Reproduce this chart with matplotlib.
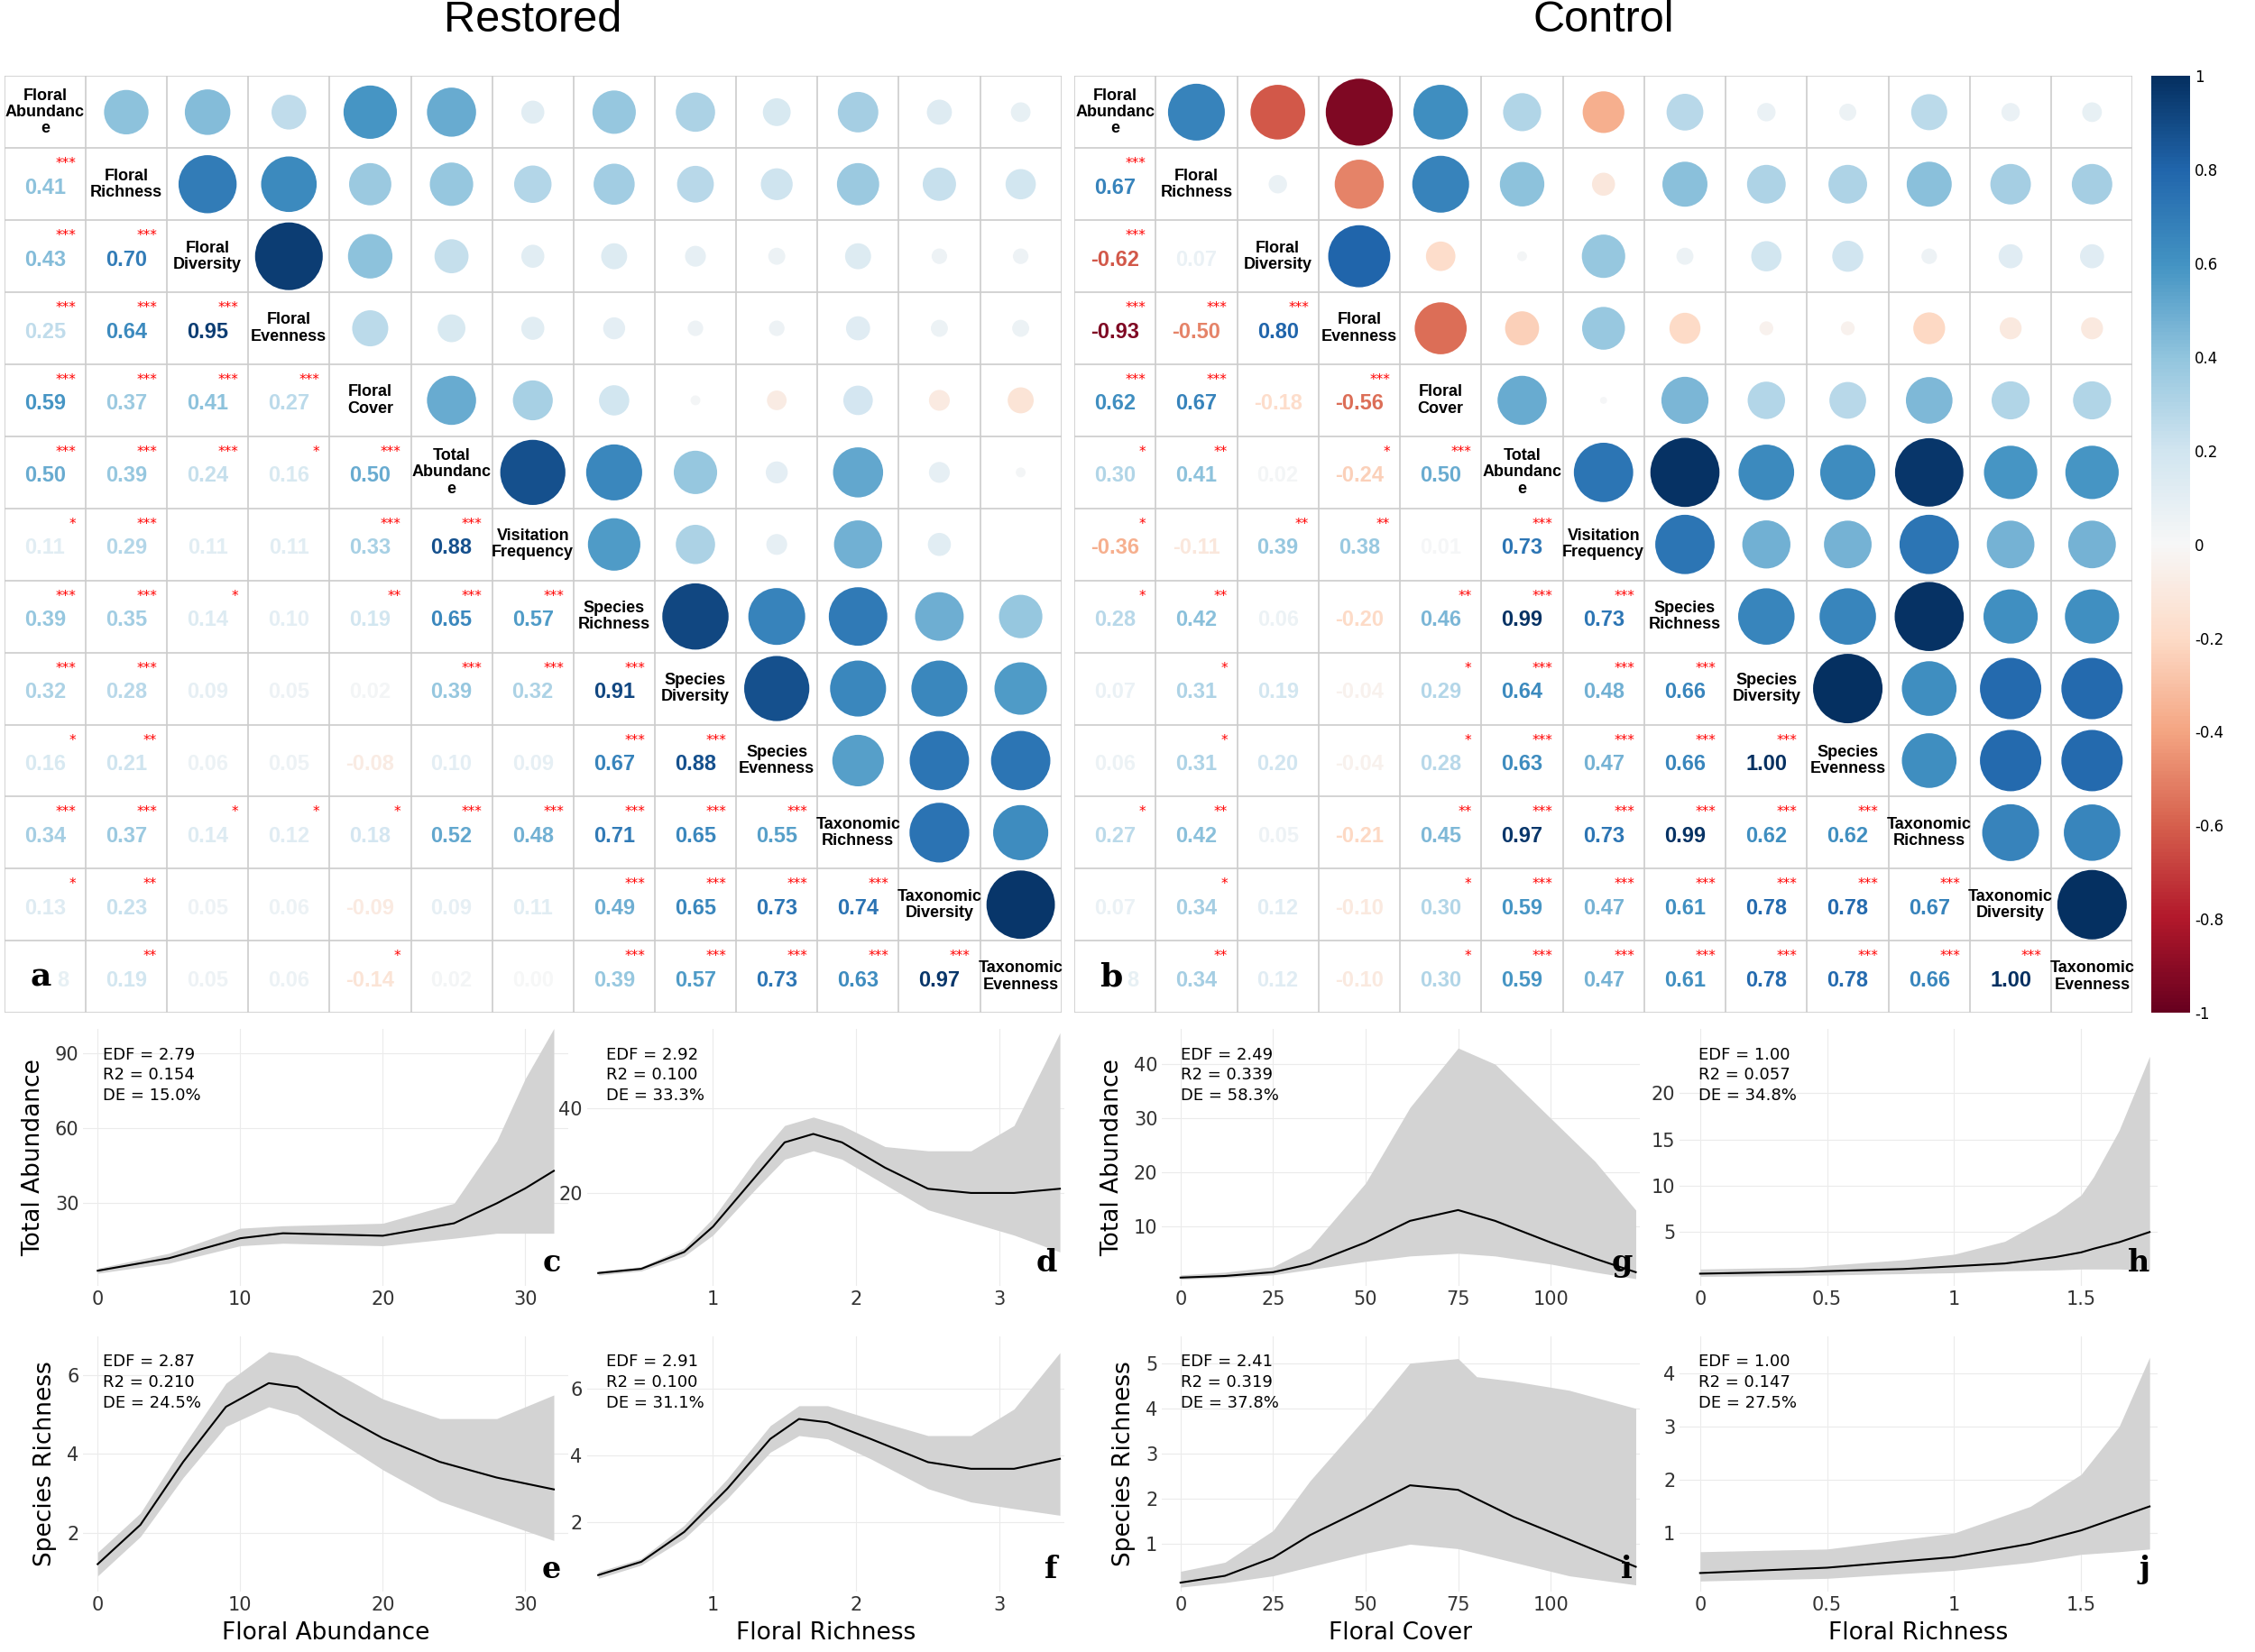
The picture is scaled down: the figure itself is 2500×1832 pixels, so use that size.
import numpy as np
import matplotlib.pyplot as plt
from matplotlib.patches import Ellipse
from matplotlib.colors import Normalize
import matplotlib as mpl

names = ["Floral\nAbundanc\ne", "Floral\nRichness", "Floral\nDiversity", "Floral\nEvenness",
         "Floral\nCover", "Total\nAbundanc\ne", "Visitation\nFrequency", "Species\nRichness",
         "Species\nDiversity", "Species\nEvenness", "Taxonomic\nRichness", "Taxonomic\nDiversity",
         "Taxonomic\nEvenness"]

# lower triangles, row i holds correlations with columns 0..i-1
rest_r = [[0.41],
          [0.43, 0.70],
          [0.25, 0.64, 0.95],
          [0.59, 0.37, 0.41, 0.27],
          [0.50, 0.39, 0.24, 0.16, 0.50],
          [0.11, 0.29, 0.11, 0.11, 0.33, 0.88],
          [0.39, 0.35, 0.14, 0.10, 0.19, 0.65, 0.57],
          [0.32, 0.28, 0.09, 0.05, 0.02, 0.39, 0.32, 0.91],
          [0.16, 0.21, 0.06, 0.05, -0.08, 0.10, 0.09, 0.67, 0.88],
          [0.34, 0.37, 0.14, 0.12, 0.18, 0.52, 0.48, 0.71, 0.65, 0.55],
          [0.13, 0.23, 0.05, 0.06, -0.09, 0.09, 0.11, 0.49, 0.65, 0.73, 0.74],
          [0.08, 0.19, 0.05, 0.06, -0.14, 0.02, 0.00, 0.39, 0.57, 0.73, 0.63, 0.97]]
rest_s = [["***"],
          ["***", "***"],
          ["***", "***", "***"],
          ["***", "***", "***", "***"],
          ["***", "***", "***", "*", "***"],
          ["*", "***", "", "", "***", "***"],
          ["***", "***", "*", "", "**", "***", "***"],
          ["***", "***", "", "", "", "***", "***", "***"],
          ["*", "**", "", "", "", "", "", "***", "***"],
          ["***", "***", "*", "*", "*", "***", "***", "***", "***", "***"],
          ["*", "**", "", "", "", "", "", "***", "***", "***", "***"],
          ["", "**", "", "", "*", "", "", "***", "***", "***", "***", "***"]]
ctrl_r = [[0.67],
          [-0.62, 0.07],
          [-0.93, -0.50, 0.80],
          [0.62, 0.67, -0.18, -0.56],
          [0.30, 0.41, 0.02, -0.24, 0.50],
          [-0.36, -0.11, 0.39, 0.38, 0.01, 0.73],
          [0.28, 0.42, 0.06, -0.20, 0.46, 0.99, 0.73],
          [0.07, 0.31, 0.19, -0.04, 0.29, 0.64, 0.48, 0.66],
          [0.06, 0.31, 0.20, -0.04, 0.28, 0.63, 0.47, 0.66, 1.00],
          [0.27, 0.42, 0.05, -0.21, 0.45, 0.97, 0.73, 0.99, 0.62, 0.62],
          [0.07, 0.34, 0.12, -0.10, 0.30, 0.59, 0.47, 0.61, 0.78, 0.78, 0.67],
          [0.08, 0.34, 0.12, -0.10, 0.30, 0.59, 0.47, 0.61, 0.78, 0.78, 0.66, 1.00]]
ctrl_s = [["***"],
          ["***", ""],
          ["***", "***", "***"],
          ["***", "***", "", "***"],
          ["*", "**", "", "*", "***"],
          ["*", "", "**", "**", "", "***"],
          ["*", "**", "", "", "**", "***", "***"],
          ["", "*", "", "", "*", "***", "***", "***"],
          ["", "*", "", "", "*", "***", "***", "***", "***"],
          ["*", "**", "", "", "**", "***", "***", "***", "***", "***"],
          ["", "*", "", "", "*", "***", "***", "***", "***", "***", "***"],
          ["", "**", "", "", "*", "***", "***", "***", "***", "***", "***", "***"]]

W, H = 25, 18.32
fig = plt.figure(figsize=(W, H), dpi=100)
cmap = plt.get_cmap("RdBu")
norm = Normalize(-1, 1)
n = 13
SANS = "Liberation Sans"


def fx(px):  # reference display px -> figure fraction
    return px / 1568


def fy(py):
    return 1 - py / 1150


def corr_panel(left, right, rows, stars, letter, title):
    ax = fig.add_axes([fx(left), fy(705), fx(right - left), fy(53) - fy(705)])
    ax.set_xlim(0, n)
    ax.set_ylim(n, 0)
    ax.axis("off")
    for k in range(n + 1):
        ax.plot([k, k], [0, n], color="#cccccc", lw=1.2)
        ax.plot([0, n], [k, k], color="#cccccc", lw=1.2)
    cw = (right - left) * 2500 / 1568 / n
    ch = 652 * 1832 / 1150 / n
    for i in range(n):
        ax.text(i + 0.5, i + 0.5, names[i], ha="center", va="center", family=SANS,
                fontsize=13, fontweight="bold", linespacing=1.1)
        for j in range(i):
            r = rows[i - 1][j]
            c = cmap(norm(r))
            if not (i == n - 1 and j == 0):
                ax.text(j + 0.5, i + 0.55, f"{r:.2f}", ha="center", va="center",
                        fontsize=17, fontweight="bold", color=c, family=SANS)
            ax.text(j + 0.88, i + 0.22, stars[i - 1][j], ha="right", va="center",
                    fontsize=11, color="red")
            d = 77 * np.sqrt(abs(r))
            ax.add_patch(Ellipse((i + 0.5, j + 0.5), d / cw, d / ch, color=c, lw=0))
    # value under the panel letter, drawn faintly beside it
    r0 = rows[n - 2][0]
    ax.text(0.72, n - 0.45, f"{r0:.2f}"[-1], ha="center", va="center",
            fontsize=17, fontweight="bold", color=cmap(norm(r0)), family=SANS)
    ax.text(0.45, n - 0.5, letter, ha="center", va="center", fontsize=26,
            fontweight="bold", family="DejaVu Serif")
    fig.text(fx((left + right) / 2), fy(14), title, ha="center", va="center",
             fontsize=35, family=SANS)


corr_panel(3, 738, rest_r, rest_s, "a", "Restored")
corr_panel(747, 1483, ctrl_r, ctrl_s, "b", "Control")

cax = fig.add_axes([fx(1496), fy(705), fx(27), fy(53) - fy(705)])
cb = fig.colorbar(mpl.cm.ScalarMappable(norm=norm, cmap=cmap), cax=cax,
                  ticks=np.round(np.arange(-1, 1.01, 0.2), 1))
cb.ax.set_yticklabels(["-1", "-0.8", "-0.6", "-0.4", "-0.2", "0", "0.2", "0.4", "0.6", "0.8", "1"])
cb.ax.tick_params(labelsize=12, length=0)
cb.outline.set_visible(False)

# GAM fits: x, fit, lower, upper
gam = {
    "c": dict(x=[0, 5, 10, 13, 20, 25, 28, 30, 32],
              y=[3, 8, 16, 18, 17, 22, 30, 36, 43],
              lo=[2, 6, 13, 14, 13, 16, 18, 18, 18],
              hi=[4, 10, 20, 21, 22, 30, 55, 80, 100],
              stats="EDF = 2.79\nR2 = 0.154\nDE = 15.0%"),
    "d": dict(x=[0.2, 0.5, 0.8, 1.0, 1.3, 1.5, 1.7, 1.9, 2.2, 2.5, 2.8, 3.1, 3.42],
              y=[1, 2, 6, 12, 24, 32, 34, 32, 26, 21, 20, 20, 21],
              lo=[0.5, 1.5, 5, 10, 21, 28, 30, 28, 22, 16, 13, 10, 6],
              hi=[1.5, 2.5, 7, 14, 28, 36, 38, 36, 31, 30, 30, 36, 58],
              stats="EDF = 2.92\nR2 = 0.100\nDE = 33.3%"),
    "e": dict(x=[0, 3, 6, 9, 12, 14, 17, 20, 24, 28, 32],
              y=[1.2, 2.2, 3.8, 5.2, 5.8, 5.7, 5.0, 4.4, 3.8, 3.4, 3.1],
              lo=[0.9, 1.9, 3.4, 4.7, 5.2, 5.0, 4.3, 3.6, 2.8, 2.3, 1.8],
              hi=[1.5, 2.5, 4.2, 5.8, 6.6, 6.5, 6.0, 5.4, 4.9, 4.9, 5.5],
              stats="EDF = 2.87\nR2 = 0.210\nDE = 24.5%"),
    "f": dict(x=[0.2, 0.5, 0.8, 1.1, 1.4, 1.6, 1.8, 2.1, 2.5, 2.8, 3.1, 3.42],
              y=[0.4, 0.8, 1.7, 3.0, 4.5, 5.1, 5.0, 4.5, 3.8, 3.6, 3.6, 3.9],
              lo=[0.3, 0.7, 1.5, 2.7, 4.1, 4.6, 4.5, 3.9, 3.0, 2.6, 2.4, 2.2],
              hi=[0.5, 0.9, 1.9, 3.3, 4.9, 5.5, 5.5, 5.1, 4.6, 4.6, 5.4, 7.1],
              stats="EDF = 2.91\nR2 = 0.100\nDE = 31.1%"),
    "g": dict(x=[0, 12, 25, 35, 50, 62, 75, 85, 100, 112, 123],
              y=[0.5, 0.8, 1.5, 3, 7, 11, 13, 11, 7, 4, 1.5],
              lo=[0.2, 0.5, 1, 2, 3.5, 4.5, 5, 4.5, 3, 1.5, 0.3],
              hi=[1, 1.5, 2.5, 6, 18, 32, 43, 40, 30, 22, 13],
              stats="EDF = 2.49\nR2 = 0.339\nDE = 58.3%"),
    "h": dict(x=[0, 0.4, 0.8, 1.0, 1.2, 1.4, 1.5, 1.55, 1.65, 1.77],
              y=[0.5, 0.7, 1.0, 1.3, 1.6, 2.3, 2.8, 3.2, 3.9, 5.0],
              lo=[0.2, 0.3, 0.5, 0.6, 0.8, 0.9, 1.0, 1.0, 1.0, 0.9],
              hi=[1, 1.2, 2.0, 2.6, 4, 7, 9, 11, 16, 24],
              stats="EDF = 1.00\nR2 = 0.057\nDE = 34.8%"),
    "i": dict(x=[0, 12, 25, 35, 50, 62, 75, 80, 90, 105, 123],
              y=[0.15, 0.3, 0.7, 1.2, 1.8, 2.3, 2.2, 2.0, 1.6, 1.1, 0.5],
              lo=[0.05, 0.15, 0.3, 0.5, 0.8, 1.0, 0.9, 0.8, 0.6, 0.3, 0.1],
              hi=[0.4, 0.6, 1.3, 2.4, 3.8, 5.0, 5.1, 4.7, 4.6, 4.4, 4.0],
              stats="EDF = 2.41\nR2 = 0.319\nDE = 37.8%"),
    "j": dict(x=[0, 0.5, 1.0, 1.3, 1.5, 1.65, 1.77],
              y=[0.25, 0.35, 0.55, 0.8, 1.05, 1.3, 1.5],
              lo=[0.1, 0.15, 0.3, 0.45, 0.6, 0.65, 0.7],
              hi=[0.65, 0.7, 1.0, 1.5, 2.1, 3.0, 4.3],
              stats="EDF = 1.00\nR2 = 0.147\nDE = 27.5%"),
}

# panel key, left, right, top, bottom (reference px), xlim, ylim, xticks, yticks, ylabel, xlabel
panels = [
    ("c", 58, 395, 716, 895, (-1, 33), (-3, 100), [0, 10, 20, 30], [30, 60, 90], "Total Abundance", None),
    ("d", 408, 740, 716, 895, (0.12, 3.45), (-2, 59), [1, 2, 3], [20, 40], None, None),
    ("g", 808, 1140, 716, 895, (-5, 124), (-1, 46.6), [0, 25, 50, 75, 100], [10, 20, 30, 40], "Total Abundance", None),
    ("h", 1168, 1500, 716, 895, (-0.08, 1.8), (-0.8, 27), [0, 0.5, 1, 1.5], [5, 10, 15, 20], None, None),
    ("e", 58, 395, 930, 1108, (-1, 33), (0.5, 7), [0, 10, 20, 30], [2, 4, 6], "Species Richness", "Floral Abundance"),
    ("f", 408, 740, 930, 1108, (0.12, 3.45), (-0.1, 7.6), [1, 2, 3], [2, 4, 6], None, "Floral Richness"),
    ("i", 808, 1140, 930, 1108, (-5, 124), (-0.05, 5.6), [0, 25, 50, 75, 100], [1, 2, 3, 4, 5], "Species Richness", "Floral Cover"),
    ("j", 1168, 1500, 930, 1108, (-0.08, 1.8), (-0.1, 4.7), [0, 0.5, 1, 1.5], [1, 2, 3, 4], None, "Floral Richness"),
]

for key, l, r, t, b, xl, yl, xt, yt, ylab, xlab in panels:
    g = gam[key]
    ax = fig.add_axes([fx(l), fy(b), fx(r - l), fy(t) - fy(b)])
    ax.fill_between(g["x"], g["lo"], g["hi"], color="#d3d3d3", lw=0)
    ax.plot(g["x"], g["y"], color="black", lw=1.5)
    ax.set_xlim(*xl)
    ax.set_ylim(*yl)
    ax.set_xticks(xt)
    ax.set_xticklabels([f"{v:g}" for v in xt])
    ax.set_yticks(yt)
    for s in ax.spines.values():
        s.set_visible(False)
    ax.grid(True, color="#ebebeb", lw=0.8)
    ax.set_axisbelow(True)
    ax.tick_params(length=0, labelsize=15, colors="#333333")
    ax.text(0.04, 0.93, g["stats"], transform=ax.transAxes, ha="left", va="top",
            fontsize=13, linespacing=1.35)
    ax.text(0.985, 0.03, key, transform=ax.transAxes, ha="right", va="bottom",
            fontsize=24, fontweight="bold", family="DejaVu Serif")
    if ylab:
        ax.set_ylabel(ylab, fontsize=19, labelpad=8)
    if xlab:
        ax.set_xlabel(xlab, fontsize=19, labelpad=6)

fig.savefig("out.png", dpi=100)
